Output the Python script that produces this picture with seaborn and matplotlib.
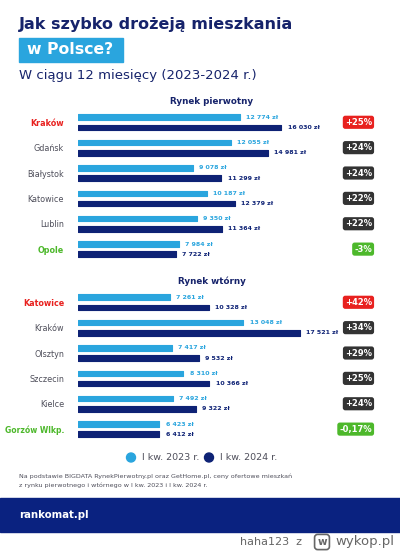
import matplotlib
matplotlib.use("Agg")
import matplotlib.pyplot as plt
import pandas as pd
import seaborn as sns

# data
primary_cities = ["Kraków", "Gdańsk", "Białystok", "Katowice", "Lublin", "Opole"]
primary_2023 = [12774, 12055, 9078, 10187, 9350, 7984]
primary_2024 = [16030, 14981, 11299, 12379, 11364, 7722]
primary_change = ["+25%", "+24%", "+24%", "+22%", "+22%", "-3%"]

secondary_cities = ["Katowice", "Kraków", "Olsztyn", "Szczecin", "Kielce", "Gorzów Wlkp."]
secondary_2023 = [7261, 13048, 7417, 8310, 7492, 6423]
secondary_2024 = [10328, 17521, 9532, 10366, 9322, 6412]
secondary_change = ["+42%", "+34%", "+29%", "+25%", "+24%", "-0,17%"]

periods = ["I kw. 2023 r.", "I kw. 2024 r."]

LIGHT = "#2aa5de"
NAVY = "#0e2275"
TITLE = "#16236b"
RED = "#e8211f"
GREEN = "#4db82b"
BADGE = "#333333"
GRAY = "#4e4e5a"

W, H = 400, 552


def fx(px):
    return px / W


def fy(py):
    return 1 - py / H


def fmt(v):
    return f"{v:,}".replace(",", " ") + " zł"


def panel(top_px, cities, v23, v24, changes):
    ax = fig.add_axes([fx(78), fy(top_px + 152.2), fx(322), 152.2 / H])
    df = pd.DataFrame({
        "city": cities * 2,
        "period": [periods[0]] * len(cities) + [periods[1]] * len(cities),
        "value": v23 + v24,
    })
    sns.barplot(data=df, x="value", y="city", hue="period", orient="h",
                palette=[LIGHT, NAVY], width=0.8, gap=0.45, legend=False,
                saturation=1, ax=ax)
    for p in ax.patches:
        p.set_edgecolor(p.get_facecolor())
        p.set_linewidth(0.8)
        p.set_joinstyle("round")
    ax.set_xlim(0, 322 / 0.01268)
    ax.bar_label(ax.containers[0], labels=[fmt(v) for v in v23], padding=4.5,
                 fontsize=4.5, color=LIGHT, fontweight="bold")
    ax.bar_label(ax.containers[1], labels=[fmt(v) for v in v24], padding=4.5,
                 fontsize=4.5, color=NAVY, fontweight="bold")
    ax.set_xlabel("")
    ax.set_ylabel("")
    ax.set_xticks([])
    ax.tick_params(axis="y", left=False, pad=6.5, labelsize=5.8, labelcolor=GRAY)
    sns.despine(ax=ax, left=True, bottom=True)
    labels = ax.get_yticklabels()
    labels[0].set_color(RED)
    labels[0].set_fontweight("bold")
    labels[-1].set_color(GREEN)
    labels[-1].set_fontweight("bold")
    if len(labels[-1].get_text()) > 8:
        labels[-1].set_fontsize(5.5)
    tr = ax.get_yaxis_transform()
    for i, ch in enumerate(changes):
        if i == 0:
            c = RED
        elif i == len(changes) - 1:
            c = GREEN
        else:
            c = BADGE
        ax.text((372 - 78) / 322, i, ch, transform=tr, ha="right", va="center",
                fontsize=6, color="white", fontweight="bold",
                bbox=dict(boxstyle="round,pad=0.25,rounding_size=0.3", fc=c, ec="none"))
    return ax


sns.set_style("white")
plt.rcParams["font.family"] = ["DejaVu Sans"]

fig = plt.figure(figsize=(4, 5.52), dpi=100)

# title block
fig.text(fx(19), fy(25), "Jak szybko drożeją mieszkania", fontsize=11.5,
         fontweight="bold", color=TITLE, va="center")
fig.patches.append(plt.Rectangle((fx(19), fy(62)), fx(104), 24.5 / H,
                                 transform=fig.transFigure, color=LIGHT))
fig.text(fx(27), fy(50), "w Polsce?", fontsize=11.3, fontweight="bold",
         color="white", va="center")
fig.text(fx(19), fy(75), "W ciągu 12 miesięcy (2023-2024 r.)", fontsize=9.5,
         color=TITLE, va="center")

fig.text(fx(212), fy(101), "Rynek pierwotny", fontsize=6.3, fontweight="bold",
         color=TITLE, ha="center", va="center")
panel(109.6, primary_cities, primary_2023, primary_2024, primary_change)

fig.text(fx(212), fy(281), "Rynek wtórny", fontsize=6.3, fontweight="bold",
         color=TITLE, ha="center", va="center")
panel(289.6, secondary_cities, secondary_2023, secondary_2024, secondary_change)

# legend
for cx, col, lab in [(131, LIGHT, periods[0]), (209, NAVY, periods[1])]:
    fig.patches.append(matplotlib.patches.Ellipse((fx(cx), fy(457.5)), 9 / W, 9 / H,
                                                  transform=fig.transFigure, color=col))
    fig.text(fx(cx + 11), fy(458), lab, fontsize=6.8, color=GRAY, va="center")

fig.text(fx(19), fy(476.5),
         "Na podstawie BIGDATA RynekPierwotny.pl oraz GetHome.pl, ceny ofertowe mieszkań",
         fontsize=4.6, color=GRAY, va="center")
fig.text(fx(19), fy(485),
         "z rynku pierwotnego i wtórnego w I kw. 2023 i I kw. 2024 r.",
         fontsize=4.6, color=GRAY, va="center")

# footer band
fig.patches.append(plt.Rectangle((0, fy(532)), 1, 34 / H,
                                 transform=fig.transFigure, color="#0a2280"))
fig.text(fx(19), fy(514.5), "rankomat.pl", fontsize=7.3, fontweight="bold",
         color="white", va="center")

fig.text(fx(302), fy(542), "haha123  z", fontsize=8, color="#666666",
         ha="right", va="center")
fig.text(fx(322), fy(542), "w", fontsize=7.5, color="#666666", fontweight="bold",
         ha="center", va="center",
         bbox=dict(boxstyle="round,pad=0.25,rounding_size=0.3", fc="none",
                   ec="#666666", lw=1.2))
fig.text(fx(394), fy(542), "wykop.pl", fontsize=9.5, color="#666666",
         ha="right", va="center")

fig.savefig("out.png", dpi=100)
